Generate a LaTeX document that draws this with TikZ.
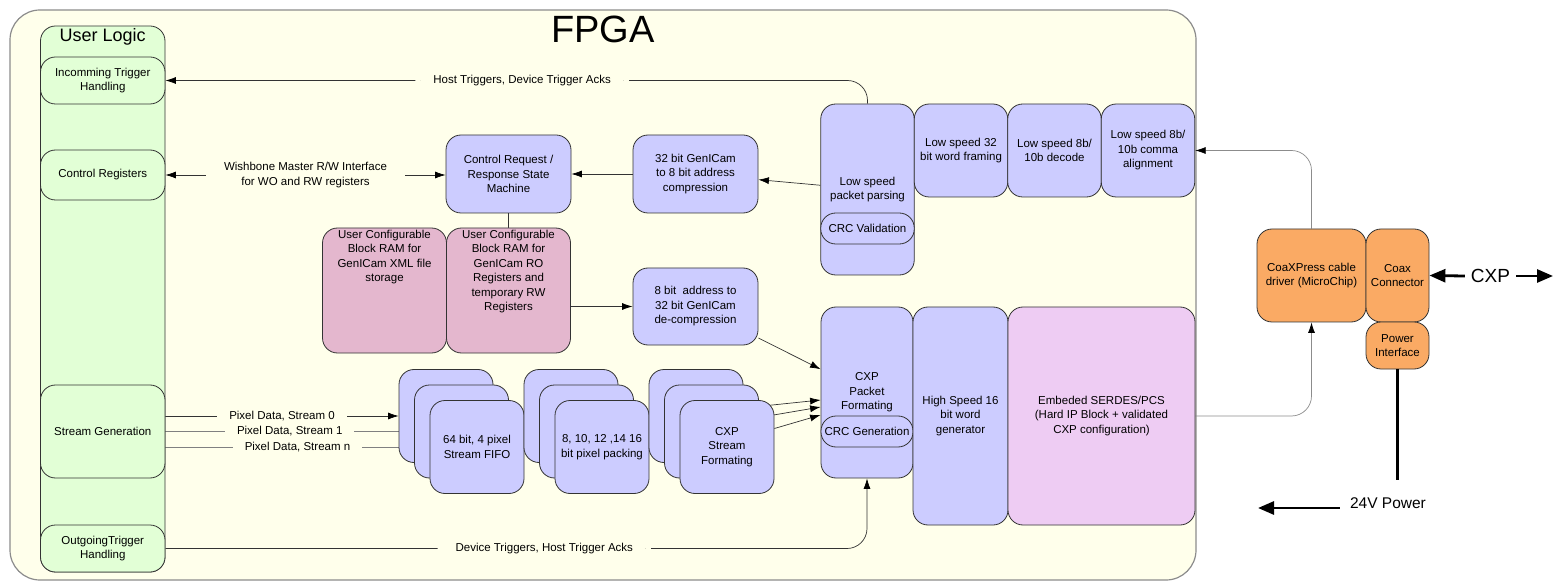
\documentclass[tikz,border=0pt]{standalone}
\usepackage{fontspec}
\setmainfont{Liberation Sans}
\usepackage{xcolor}
\usetikzlibrary{arrows.meta}

\pgfdeclarelayer{bg}
\pgfdeclarelayer{wires}
\pgfsetlayers{bg,wires,main}

\definecolor{fpgabg}{RGB}{255,255,235}
\definecolor{ulgreen}{RGB}{226,255,214}
\definecolor{rampink}{RGB}{228,183,206}
\definecolor{serdespink}{RGB}{238,204,243}
\definecolor{drvorange}{RGB}{250,170,100}

\newcommand{\boxfont}{\fontsize{11.5}{14.5}\selectfont}

\begin{document}
\begin{tikzpicture}[x=1pt, y=-1pt,
    >={Latex[length=10.5pt,width=7pt,color=black]},
    blk/.style={draw=black!80, line width=0.8pt, rounded corners=15pt, fill=blue!20, align=center, font=\boxfont, inner sep=1pt},
    ulblk/.style={blk, fill=ulgreen, minimum width=124.5pt},
    ramblk/.style={blk, fill=rampink, minimum width=124pt, minimum height=125pt},
    ramtxt/.style={anchor=north, align=center, font=\boxfont, inner sep=2pt},
    stackblk/.style={blk, minimum width=94pt, minimum height=93pt},
    drvblk/.style={blk, fill=drvorange},
    lbl/.style={fill=fpgabg, font=\boxfont, align=center, inner xsep=18pt, inner ysep=1pt},
    wire/.style={draw=black!80, line width=0.7pt},
    bigarrow/.style={line width=2.8pt, -{Triangle[length=16pt,width=13pt]}},
]
    \useasboundingbox (0,0) rectangle (1561,585);

    % Draw the FPGA frame
    \begin{pgfonlayer}{bg}
        \fill[white] (0,0) rectangle (1561,585);
        \node[draw=black!45, line width=1.2pt, fill=fpgabg, rounded corners=30pt, minimum width=1186pt, minimum height=570pt] (fpga) at (603,295) {};
    \end{pgfonlayer}
    \node[font=\fontsize{38}{40}\selectfont] (title) at (603,29) {FPGA};

    % User logic column
    \node[ulblk, minimum height=546pt, label={[anchor=north, font=\fontsize{18}{20}\selectfont, inner sep=3pt]north:User Logic}] (ul) at (102.75,299) {};
    \node[ulblk, minimum height=47pt] (inc) at (102.75,80.5) {Incomming Trigger\\Handling};
    \node[ulblk, minimum height=50pt] (ctrl) at (102.75,175) {Control Registers};
    \node[ulblk, minimum height=93pt] (sg) at (102.75,431.5) {Stream Generation};
    \node[ulblk, minimum height=47pt] (out) at (102.75,548.5) {OutgoingTrigger\\Handling};

    % Control path
    \node[blk, minimum width=125pt, minimum height=78pt] (crsm) at (508.5,174) {Control Request /\\Response State\\Machine};
    \node[blk, minimum width=125pt, minimum height=78pt] (gc32) at (695.5,174) {32 bit GenICam\\to 8 bit address\\compression};
    \node[ramblk, label={[ramtxt]north:User Configurable\\Block RAM for\\GenICam XML file\\storage}] (ram1) at (384.5,290.5) {};
    \node[ramblk, label={[ramtxt]north:User Configurable\\Block RAM for\\GenICam RO\\Registers and\\temporary RW\\Registers}] (ram2) at (508.5,290.5) {};
    \node[blk, minimum width=125pt, minimum height=77pt] (gc8) at (695.5,306.5) {8 bit\ \ address to\\32 bit GenICam\\de-compression};

    % Low speed receive chain
    \node[blk, minimum width=93.5pt, minimum height=171pt] (pp) at (867.5,189.5) {Low speed\\packet parsing};
    \node[blk, minimum width=93.5pt, minimum height=31pt] (crcv) at (867.5,228.5) {CRC Validation};
    \node[blk, minimum width=93.5pt, minimum height=93pt] (wf) at (961,150.5) {Low speed 32\\bit word framing};
    \node[blk, minimum width=93.5pt, minimum height=93pt] (dec) at (1054.5,150.5) {Low speed 8b/\\10b decode};
    \node[blk, minimum width=93.5pt, minimum height=93pt] (comma) at (1148,150.5) {Low speed 8b/\\10b comma\\alignment};

    % Stream stacks
    \node[stackblk] (fifoa) at (446,416) {};
    \node[stackblk] (fifob) at (461.5,431.5) {};
    \node[stackblk] (fifoc) at (477,447) {64 bit, 4 pixel\\Stream FIFO};
    \node[stackblk] (packa) at (571,416) {};
    \node[stackblk] (packb) at (586.5,431.5) {};
    \node[stackblk] (packc) at (602,447) {8, 10, 12 ,14 16\\bit pixel packing};
    \node[stackblk] (csfa) at (696,416) {};
    \node[stackblk] (csfb) at (711.5,431.5) {};
    \node[stackblk] (csfc) at (727,447) {CXP\\Stream\\Formating};

    % High speed transmit chain
    \node[blk, minimum width=92pt, minimum height=171pt] (cpf) at (867,392.5) {CXP\\Packet\\Formating};
    \node[blk, minimum width=92pt, minimum height=31pt] (crcg) at (867,431.5) {CRC Generation};
    \node[blk, minimum width=95pt, minimum height=218pt] (hs) at (960.5,416) {High Speed 16\\bit word\\generator};
    \node[blk, fill=serdespink, minimum width=187pt, minimum height=218pt] (serdes) at (1101.5,416) {Embeded SERDES/PCS\\(Hard IP Block + validated\\CXP configuration)};

    % Off chip parts
    \node[drvblk, minimum width=109pt, minimum height=93pt] (drv) at (1311.5,275.5) {CoaXPress cable\\driver (MicroChip)};
    \node[drvblk, minimum width=63pt, minimum height=93pt] (coax) at (1397.5,275.5) {Coax\\Connector};
    \node[drvblk, minimum width=63pt, minimum height=47pt] (pint) at (1397.5,345.5) {Power\\Interface};
    \node[font=\fontsize{19}{21}\selectfont, inner xsep=6pt] (cxp) at (1490.5,276) {CXP};
    \node[font=\fontsize{15.5}{17}\selectfont, inner xsep=10pt] (pwr) at (1388,503) {24V Power};
    \coordinate (cxpend) at (1553,276);
    \coordinate (pwrline) at (1397.5,480);
    \coordinate (pwrtip) at (1258,508);

    \begin{pgfonlayer}{wires}
        % Trigger lines
        \draw[wire, <-, rounded corners=20pt] (inc.east) -| node[lbl, pos=0.254] {Host Triggers, Device Trigger Acks} (pp.north);
        \draw[wire, ->, rounded corners=20pt] (out.east) -| node[lbl, pos=0.27] {Device Triggers, Host Trigger Acks} (cpf.south);

        % Register access
        \draw[wire, <->] (ctrl.east) -- node[lbl] {Wishbone Master R/W Interface\\for WO and RW registers} (ctrl.east -| crsm.west);
        \draw[wire, ->] (gc32) -- (crsm);
        \draw[wire, ->] (pp) -- (gc32);
        \draw[wire] (crsm) -- (ram2);
        \draw[wire, ->] (ram2.east |- gc8.west) -- (gc8.west);
        \draw[wire, ->] (gc8) -- (cpf);

        % Pixel data
        \draw[wire, ->] ([yshift=15.5pt]sg.east) -- node[lbl, inner xsep=12pt] {Pixel Data, Stream 0} (fifoa.west);
        \draw[wire, draw=black!50, ->] (sg.east) -- node[lbl, inner xsep=12pt] {Pixel Data, Stream 1} (fifob.west);
        \draw[wire, draw=black!50, ->] ([yshift=-15.5pt]sg.east) -- node[lbl, inner xsep=12pt] {Pixel Data, Stream n} (fifoc.west);
        \draw[wire, ->] ([yshift=8pt]csfa.east) -- ([yshift=-7.5pt]cpf.west);
        \draw[wire, ->] ([yshift=14pt]csfb.east) -- ([yshift=-14.5pt]cpf.west);
        \draw[wire, ->] ([yshift=18.5pt]csfc.east) -- ([yshift=-22.5pt]cpf.west);

        % Serial link
        \draw[wire, draw=black!45, ->, rounded corners=20pt] (serdes.east) -| (drv.south);
        \draw[wire, draw=black!45, ->, rounded corners=20pt] (drv.north) |- (comma.east);
    \end{pgfonlayer}

    % CXP and power
    \draw[bigarrow] (cxp.west) -- (coax.east);
    \draw[bigarrow] (cxp.east) -- (cxpend);
    \draw[line width=2.5pt] (pint.south) -- (pwrline);
    \draw[bigarrow] ([yshift=-5pt]pwr.west) -- (pwrtip);
\end{tikzpicture}
\end{document}
